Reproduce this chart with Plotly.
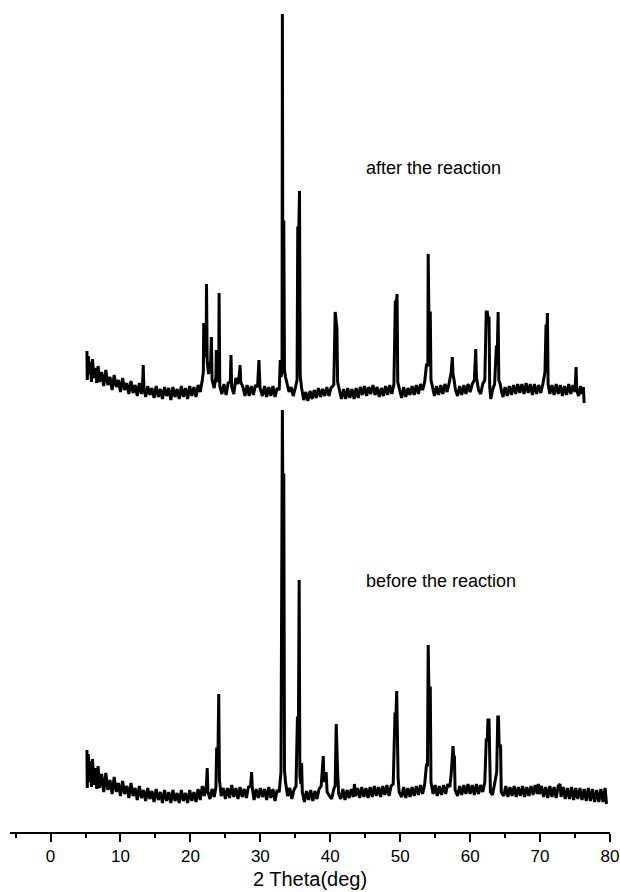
import plotly.graph_objects as go

# 2 theta (deg) and intensity (a.u.)
after_theta = [
    5.2, 5.25, 5.4, 5.55, 5.7, 5.85, 6.0, 6.2, 6.4, 6.6,
    6.8, 7.0, 7.3, 7.6, 7.9, 8.2, 8.5, 8.8, 9.1, 9.4,
    9.7, 10.0, 10.3, 10.6, 10.9, 11.2, 11.5, 11.8, 12.1, 12.4,
    12.7, 13.0, 13.15, 13.25, 13.35, 13.6, 13.9, 14.2, 14.5, 14.8,
    15.1, 15.4, 15.7, 16.0, 16.3, 16.6, 16.9, 17.2, 17.5, 17.8,
    18.1, 18.4, 18.7, 19.0, 19.3, 19.6, 19.9, 20.2, 20.5, 20.8,
    21.1, 21.4, 21.7, 21.85, 21.9, 21.95, 22.25, 22.3, 22.4, 22.6,
    22.9, 23.0, 23.1, 23.4, 23.65, 23.7, 23.8, 24.05, 24.1, 24.2,
    24.5, 24.8, 25.1, 25.4, 25.7, 25.8, 25.9, 26.2, 26.5, 26.8,
    27.0, 27.1, 27.2, 27.5, 27.8, 28.1, 28.4, 28.7, 29.0, 29.3,
    29.6, 29.8, 29.95, 30.3, 30.6, 30.9, 31.2, 31.5, 31.8, 32.1,
    32.4, 32.7, 32.85, 32.95, 33.1, 33.15, 33.2, 33.35, 33.45, 33.6,
    33.8, 34.1, 34.4, 34.7, 35.0, 35.25, 35.35, 35.5, 35.6, 35.7,
    35.9, 36.2, 36.5, 36.8, 37.1, 37.4, 37.7, 38.0, 38.3, 38.6,
    38.9, 39.2, 39.5, 39.8, 40.1, 40.5, 40.7, 40.85, 40.95, 41.05,
    41.3, 41.6, 41.9, 42.2, 42.5, 42.8, 43.1, 43.4, 43.7, 44.0,
    44.3, 44.6, 44.9, 45.2, 45.5, 45.8, 46.1, 46.4, 46.7, 47.0,
    47.3, 47.6, 47.9, 48.2, 48.5, 48.8, 49.1, 49.3, 49.45, 49.55,
    49.65, 49.9, 50.2, 50.5, 50.8, 51.1, 51.4, 51.7, 52.0, 52.3,
    52.6, 52.9, 53.2, 53.5, 53.75, 53.95, 54.0, 54.1, 54.3, 54.4,
    54.6, 54.9, 55.2, 55.5, 55.8, 56.1, 56.4, 56.7, 57.0, 57.3,
    57.45, 57.55, 57.7, 57.9, 58.2, 58.5, 58.8, 59.1, 59.4, 59.7,
    60.0, 60.3, 60.6, 60.8, 60.9, 61.2, 61.5, 61.8, 62.1, 62.3,
    62.45, 62.55, 62.7, 62.8, 62.95, 63.2, 63.5, 63.75, 63.9, 64.0,
    64.1, 64.3, 64.5, 64.7, 65.0, 65.3, 65.6, 65.9, 66.2, 66.5,
    66.8, 67.1, 67.4, 67.7, 68.0, 68.3, 68.6, 68.9, 69.2, 69.5,
    69.8, 70.1, 70.4, 70.7, 70.85, 71.0, 71.05, 71.15, 71.4, 71.7,
    72.0, 72.3, 72.6, 72.9, 73.2, 73.5, 73.8, 74.1, 74.4, 74.7,
    75.0, 75.15, 75.25, 75.5, 75.8, 76.0, 76.2, 76.3]
after_int = [
    81, 52, 76, 58, 70, 50, 73, 54, 64, 49,
    66, 50, 60, 46, 62, 47, 55, 42, 57, 45,
    52, 40, 54, 42, 49, 38, 51, 39, 47, 36,
    49, 38, 46, 67, 44, 35, 46, 37, 44, 34,
    46, 35, 43, 33, 45, 36, 44, 32, 45, 35,
    43, 33, 46, 35, 44, 33, 46, 36, 45, 35,
    47, 40, 52, 60, 109, 75, 80, 148, 70, 58,
    72, 95, 52, 44, 55, 82, 50, 60, 139, 46,
    38, 48, 37, 49, 50, 77, 45, 38, 54, 48,
    58, 67, 50, 45, 36, 47, 36, 46, 37, 47,
    45, 72, 44, 36, 46, 35, 45, 36, 46, 35,
    44, 42, 72, 55, 60, 418, 210, 210, 62, 55,
    48, 40, 45, 36, 44, 52, 204, 204, 241, 56,
    44, 32, 40, 31, 41, 33, 42, 34, 44, 35,
    43, 36, 45, 36, 44, 47, 120, 104, 104, 50,
    42, 33, 43, 33, 44, 34, 43, 33, 44, 34,
    45, 37, 46, 36, 45, 38, 47, 37, 45, 35,
    44, 36, 46, 37, 47, 38, 48, 130, 130, 138,
    50, 42, 34, 45, 35, 44, 37, 46, 37, 47,
    38, 48, 42, 50, 67, 67, 178, 119, 119, 52,
    44, 36, 46, 37, 47, 38, 48, 40, 49, 60,
    75, 58, 52, 42, 36, 46, 37, 47, 38, 48,
    40, 48, 52, 83, 55, 42, 38, 48, 52, 120,
    120, 114, 114, 45, 33, 42, 48, 85, 85, 120,
    52, 48, 40, 35, 45, 36, 46, 37, 47, 38,
    48, 39, 48, 38, 49, 39, 48, 37, 48, 38,
    47, 39, 48, 60, 106, 106, 119, 48, 38, 47,
    37, 48, 38, 47, 36, 46, 37, 48, 38, 47,
    40, 65, 42, 36, 46, 38, 45, 29]

before_theta = [
    5.2, 5.25, 5.4, 5.55, 5.7, 5.85, 6.0, 6.2, 6.4, 6.6,
    6.8, 7.0, 7.3, 7.6, 7.9, 8.2, 8.5, 8.8, 9.1, 9.4,
    9.7, 10.0, 10.3, 10.6, 10.9, 11.2, 11.5, 11.8, 12.1, 12.4,
    12.7, 13.0, 13.3, 13.6, 13.9, 14.2, 14.5, 14.8, 15.1, 15.4,
    15.7, 16.0, 16.3, 16.6, 16.9, 17.2, 17.5, 17.8, 18.1, 18.4,
    18.7, 19.0, 19.3, 19.6, 19.9, 20.2, 20.5, 20.8, 21.1, 21.4,
    21.7, 22.0, 22.3, 22.4, 22.5, 22.8, 23.1, 23.4, 23.65, 23.75,
    23.95, 24.05, 24.15, 24.4, 24.7, 25.0, 25.3, 25.6, 25.9, 26.2,
    26.5, 26.8, 27.1, 27.4, 27.7, 28.0, 28.3, 28.6, 28.75, 28.85,
    29.1, 29.4, 29.7, 30.0, 30.3, 30.6, 30.9, 31.2, 31.5, 31.8,
    32.1, 32.4, 32.7, 32.95, 33.15, 33.2, 33.35, 33.45, 33.6, 33.9,
    34.2, 34.5, 34.8, 35.1, 35.3, 35.45, 35.55, 35.65, 35.8, 35.9,
    36.0, 36.3, 36.6, 36.9, 37.2, 37.5, 37.8, 38.1, 38.4, 38.7,
    39.0, 39.1, 39.4, 39.55, 39.9, 40.2, 40.5, 40.7, 40.85, 40.95,
    41.05, 41.2, 41.5, 41.8, 42.1, 42.4, 42.7, 43.0, 43.3, 43.45,
    43.6, 43.9, 44.2, 44.5, 44.8, 45.1, 45.4, 45.7, 46.0, 46.3,
    46.6, 46.9, 47.2, 47.5, 47.8, 48.1, 48.4, 48.7, 49.0, 49.25,
    49.4, 49.5, 49.6, 49.7, 49.85, 50.2, 50.5, 50.8, 51.1, 51.4,
    51.7, 52.0, 52.3, 52.6, 52.9, 53.2, 53.5, 53.75, 53.9, 54.0,
    54.1, 54.3, 54.4, 54.7, 55.0, 55.3, 55.6, 55.9, 56.2, 56.5,
    56.8, 57.1, 57.3, 57.45, 57.55, 57.65, 57.75, 57.85, 58.2, 58.5,
    58.8, 59.1, 59.4, 59.7, 60.0, 60.3, 60.6, 60.9, 61.2, 61.5,
    61.8, 62.1, 62.3, 62.45, 62.55, 62.7, 62.8, 62.9, 63.2, 63.5,
    63.8, 63.95, 64.05, 64.15, 64.35, 64.45, 64.8, 65.1, 65.4, 65.7,
    66.0, 66.3, 66.6, 66.9, 67.2, 67.5, 67.8, 68.1, 68.4, 68.7,
    69.0, 69.3, 69.6, 69.75, 69.9, 70.2, 70.5, 70.8, 71.1, 71.4,
    71.7, 72.0, 72.3, 72.6, 72.85, 73.0, 73.3, 73.6, 73.9, 74.2,
    74.5, 74.8, 75.1, 75.4, 75.7, 76.0, 76.3, 76.6, 76.9, 77.2,
    77.5, 77.8, 78.1, 78.4, 78.7, 79.0, 79.3, 79.5]
before_int = [
    82, 44, 78, 50, 71, 45, 73, 47, 64, 43,
    66, 44, 58, 40, 59, 42, 52, 38, 55, 40,
    49, 36, 51, 38, 46, 34, 49, 36, 44, 32,
    46, 34, 42, 31, 44, 33, 41, 30, 43, 32,
    40, 29, 42, 31, 40, 29, 42, 31, 39, 29,
    42, 31, 39, 29, 42, 31, 40, 30, 43, 32,
    46, 36, 48, 64, 40, 33, 43, 35, 45, 83,
    83, 138, 52, 36, 44, 33, 44, 34, 47, 35,
    44, 33, 45, 35, 43, 34, 45, 46, 60, 44,
    32, 43, 34, 44, 35, 43, 32, 45, 34, 43,
    31, 42, 40, 60, 422, 357, 357, 62, 50, 36,
    44, 33, 42, 46, 114, 114, 252, 56, 48, 69,
    40, 30, 41, 32, 42, 31, 41, 33, 43, 46,
    76, 50, 60, 40, 36, 33, 43, 46, 108, 70,
    60, 38, 33, 43, 32, 42, 34, 43, 35, 48,
    36, 44, 34, 45, 35, 44, 34, 45, 35, 46,
    36, 45, 35, 46, 37, 47, 36, 46, 48, 118,
    118, 141, 60, 54, 40, 35, 45, 34, 44, 35,
    45, 36, 46, 37, 47, 38, 48, 67, 67, 187,
    144, 144, 50, 38, 47, 36, 46, 37, 47, 38,
    48, 45, 59, 86, 86, 75, 75, 42, 36, 46,
    37, 47, 38, 48, 38, 47, 37, 48, 38, 47,
    40, 50, 92, 92, 112, 112, 62, 40, 37, 48,
    60, 115, 115, 86, 86, 40, 36, 46, 35, 45,
    36, 46, 35, 45, 36, 46, 35, 45, 36, 46,
    37, 47, 38, 48, 38, 46, 35, 45, 34, 46,
    35, 45, 34, 46, 48, 35, 45, 33, 44, 33,
    45, 32, 44, 33, 44, 32, 43, 31, 44, 31,
    43, 30, 42, 30, 43, 30, 44, 28]

labels = ["after the reaction", "before the reaction"]
x_ticks = [0, 10, 20, 30, 40, 50, 60, 70, 80]
x_minor = [-5, 5, 15, 25, 35, 45, 55, 65, 75]
OFFSET = 400  # vertical shift of the upper pattern

FONT = "Liberation Sans, Arial, Helvetica, sans-serif"

fig = go.Figure()
fig.add_trace(go.Scatter(x=before_theta, y=before_int, mode="lines",
                         line=dict(color="black", width=3), showlegend=False, hoverinfo="skip"))
fig.add_trace(go.Scatter(x=after_theta, y=[v + OFFSET for v in after_int], mode="lines",
                         line=dict(color="black", width=3), showlegend=False, hoverinfo="skip"))

fig.add_annotation(x=44.8, y=664, xref="x", yref="y", text=labels[0], showarrow=False,
                   xanchor="left", yanchor="middle", font=dict(family=FONT, size=18, color="black"))
fig.add_annotation(x=44.8, y=251, xref="x", yref="y", text=labels[1], showarrow=False,
                   xanchor="left", yanchor="middle", font=dict(family=FONT, size=18, color="black"))

fig.update_layout(
    width=620, height=892,
    margin=dict(l=10, r=10, t=8, b=60),
    paper_bgcolor="white", plot_bgcolor="white",
    font=dict(family=FONT, color="black"),
    xaxis=dict(range=[-5.8, 80], tickvals=x_ticks, ticktext=[str(t) for t in x_ticks],
               showgrid=False, zeroline=False, showline=True, linecolor="black", linewidth=2,
               ticks="outside", ticklen=8, tickwidth=2, tickcolor="black",
               tickfont=dict(size=17, family=FONT),
               minor=dict(tickvals=x_minor, ticks="outside", ticklen=4,
                          tickwidth=2, tickcolor="black"),
               title=dict(text="2 Theta(deg)", font=dict(size=20, family=FONT), standoff=7),
               automargin=False),
    yaxis=dict(range=[0, 824], visible=False, showgrid=False, zeroline=False),
)

fig.write_html("out.html", config={"displayModeBar": False, "staticPlot": True},
               post_script="document.body.style.margin='0';document.body.style.overflow='hidden';")
